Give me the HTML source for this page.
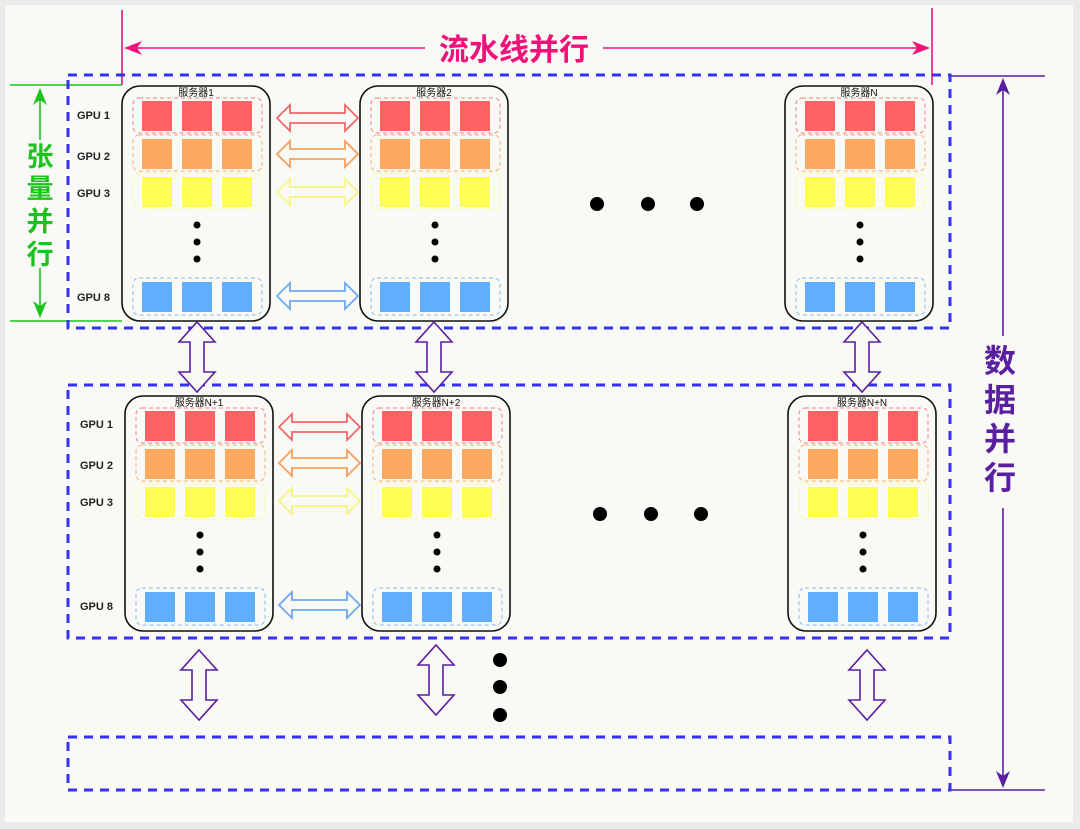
<!DOCTYPE html>
<html><head><meta charset="utf-8"><style>
html,body{margin:0;padding:0;background:#ebebeb}
svg{display:block}
text{font-family:"Liberation Sans","Noto Sans CJK SC",sans-serif}
</style></head><body>
<svg width="1080" height="829" viewBox="0 0 1080 829" xmlns="http://www.w3.org/2000/svg">
<defs>
<g id="srv">
<rect x="0" y="0" width="148" height="235" rx="18" fill="#f9f9f6" stroke="#111" stroke-width="1.6"/>
<rect x="11" y="12" width="129" height="35" rx="6" fill="none" stroke="#f08080" stroke-dasharray="4,3"/>
<rect x="11" y="49" width="129" height="36" rx="6" fill="none" stroke="#f5b07a" stroke-dasharray="4,3"/>
<rect x="11" y="87" width="129" height="36" rx="6" fill="none" stroke="#fafa90" stroke-dasharray="4,3"/>
<rect x="11" y="192" width="129" height="37" rx="6" fill="none" stroke="#8ab8f0" stroke-dasharray="4,3"/>
<g fill="#fe6262"><rect x="20" y="15" width="30" height="30"/><rect x="60" y="15" width="30" height="30"/><rect x="100" y="15" width="30" height="30"/></g>
<g fill="#fda95f"><rect x="20" y="53" width="30" height="30"/><rect x="60" y="53" width="30" height="30"/><rect x="100" y="53" width="30" height="30"/></g>
<g fill="#fefe56"><rect x="20" y="91" width="30" height="30"/><rect x="60" y="91" width="30" height="30"/><rect x="100" y="91" width="30" height="30"/></g>
<g fill="#62aefe"><rect x="20" y="196" width="30" height="30"/><rect x="60" y="196" width="30" height="30"/><rect x="100" y="196" width="30" height="30"/></g>
<g fill="#000"><circle cx="75" cy="139" r="3.5"/><circle cx="75" cy="156" r="3.5"/><circle cx="75" cy="173" r="3.5"/></g>
</g>
<path id="ha" d="M0,0 L13,-13 L13,-5 L68,-5 L68,-13 L81,0 L68,13 L68,5 L13,5 L13,13 Z" fill="#f9f9f6" stroke-width="1.8"/>
<path id="va" d="M0,0 L18,20 L7,20 L7,50 L18,50 L0,70 L-18,50 L-7,50 L-7,20 L-18,20 Z" fill="#f9f9f6" stroke="#5a1ea0" stroke-width="1.6"/>
</defs>
<rect x="5" y="5" width="1068" height="817" fill="#f9f9f6"/>

<g stroke="#f0127a" stroke-width="1.6" fill="#f0127a">
<line x1="122" y1="10" x2="122" y2="85"/><line x1="932" y1="8" x2="932" y2="85"/>
<line x1="126" y1="48" x2="425" y2="48"/><line x1="603" y1="48" x2="928" y2="48"/>
<path d="M124,48 L142,41 L137,48 L142,55 Z" stroke="none"/><path d="M930,48 L912,41 L917,48 L912,55 Z" stroke="none"/>
</g>
<text x="514" y="60" text-anchor="middle" font-size="30" font-weight="bold" fill="#f0127a">流水线并行</text>

<g stroke="#1ec21e" stroke-width="1.6" fill="#1ec21e">
<line x1="10" y1="85" x2="122" y2="85"/><line x1="10" y1="321" x2="122" y2="321"/>
<line x1="40" y1="92" x2="40" y2="140"/><line x1="40" y1="268" x2="40" y2="316"/>
<path d="M40,88 L33,105 L40,100 L47,105 Z" stroke="none"/><path d="M40,318 L33,301 L40,306 L47,301 Z" stroke="none"/>
</g>
<g font-size="27" font-weight="bold" fill="#1ec21e" text-anchor="middle">
<text x="40" y="166">张</text><text x="40" y="198">量</text><text x="40" y="231">并</text><text x="40" y="264">行</text></g>

<g stroke="#5a1ea0" stroke-width="1.6" fill="#5a1ea0">
<line x1="950" y1="76" x2="1045" y2="76"/><line x1="950" y1="790" x2="1045" y2="790"/>
<line x1="1003" y1="82" x2="1003" y2="336"/><line x1="1003" y1="508" x2="1003" y2="786"/>
<path d="M1003,78 L996,95 L1003,90 L1010,95 Z" stroke="none"/><path d="M1003,788 L996,771 L1003,776 L1010,771 Z" stroke="none"/>
</g>
<g font-size="32" font-weight="bold" fill="#5a1ea0" text-anchor="middle">
<text x="1000" y="372">数</text><text x="1000" y="411">据</text><text x="1000" y="450">并</text><text x="1000" y="489">行</text></g>

<g fill="none" stroke="#3333ee" stroke-width="3" stroke-dasharray="9,7">
<rect x="68" y="75" width="882" height="253"/>
<rect x="68" y="385" width="882" height="253"/>
<rect x="68" y="737" width="882" height="53"/>
</g>

<use href="#srv" x="122" y="86"/><use href="#srv" x="360" y="86"/><use href="#srv" x="785" y="86"/>
<use href="#srv" x="125" y="396"/><use href="#srv" x="362" y="396"/><use href="#srv" x="788" y="396"/>
<g font-size="10" fill="#111" text-anchor="middle">
<text x="196" y="96">服务器1</text><text x="434" y="96">服务器2</text><text x="859" y="96">服务器N</text>
<text x="199" y="406">服务器N+1</text><text x="436" y="406">服务器N+2</text><text x="862" y="406">服务器N+N</text>
</g>
<g font-size="11" font-weight="bold" fill="#222">
<text x="77" y="119">GPU 1</text><text x="77" y="160">GPU 2</text><text x="77" y="197">GPU 3</text><text x="77" y="301">GPU 8</text>
<text x="80" y="428">GPU 1</text><text x="80" y="469">GPU 2</text><text x="80" y="506">GPU 3</text><text x="80" y="610">GPU 8</text>
</g>

<use href="#ha" x="277" y="118" stroke="#f06868"/><use href="#ha" x="277" y="154" stroke="#f5a060"/>
<use href="#ha" x="277" y="192" stroke="#f5f580"/><use href="#ha" x="277" y="296" stroke="#70a8f0"/>
<use href="#ha" x="279" y="427" stroke="#f06868"/><use href="#ha" x="279" y="463" stroke="#f5a060"/>
<use href="#ha" x="279" y="501" stroke="#f5f580"/><use href="#ha" x="279" y="605" stroke="#70a8f0"/>

<use href="#va" x="197" y="322"/><use href="#va" x="434" y="322"/><use href="#va" x="862" y="322"/>
<use href="#va" x="199" y="650"/><use href="#va" x="436" y="645"/><use href="#va" x="867" y="650"/>

<g fill="#000">
<circle cx="597" cy="204" r="7"/><circle cx="648" cy="204" r="7"/><circle cx="697" cy="204" r="7"/>
<circle cx="600" cy="514" r="7"/><circle cx="651" cy="514" r="7"/><circle cx="701" cy="514" r="7"/>
<circle cx="500" cy="660" r="7"/><circle cx="500" cy="687" r="7"/><circle cx="500" cy="715" r="7"/>
</g>
</svg>
</body></html>
